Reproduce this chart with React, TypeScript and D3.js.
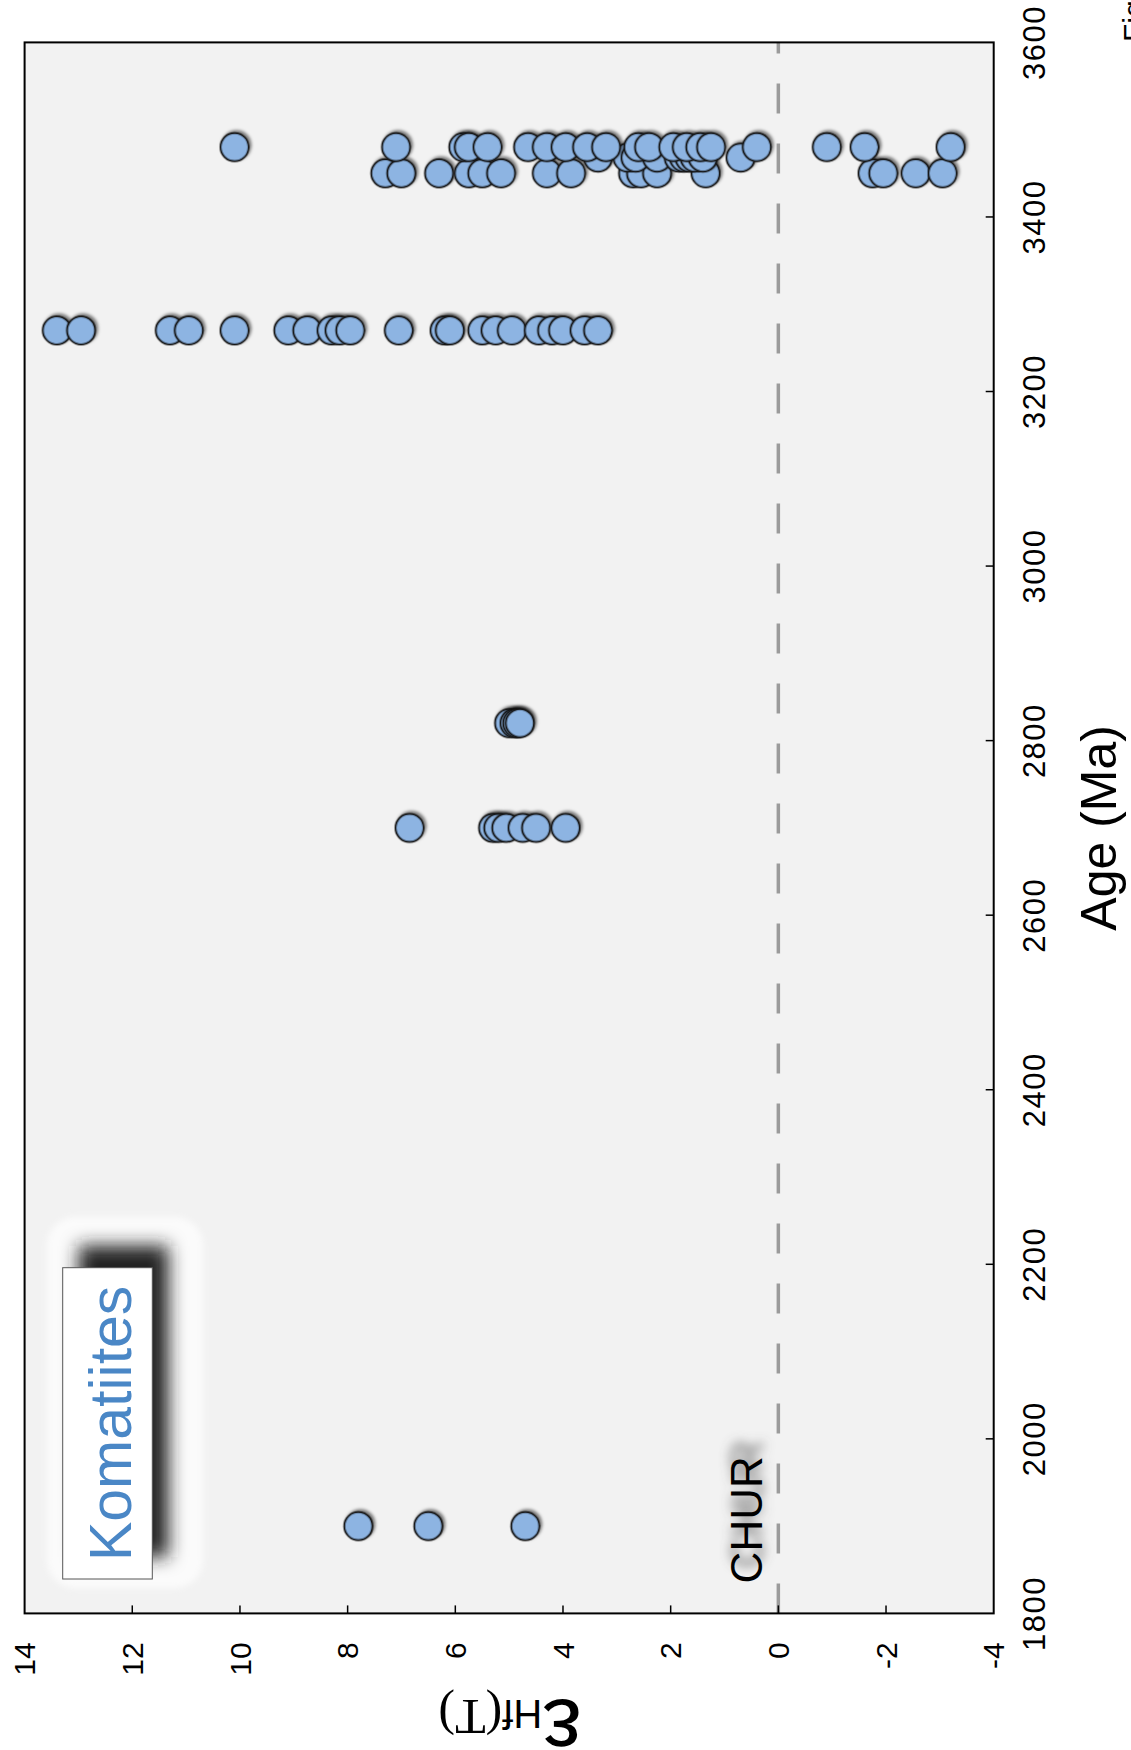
import React from 'react';
import * as d3 from 'd3';

// Axis ticks
const ageTicks = [1800, 2000, 2200, 2400, 2600, 2800, 3000, 3200, 3400, 3600];
const hfTicks = [14, 12, 10, 8, 6, 4, 2, 0, -2, -4];

// εHf(T) values of komatiites, grouped by age (Ma)
const hf1900 = [7.8, 6.5, 4.7];
const hf2700 = [6.85, 5.3, 5.2, 5.05, 4.75, 4.5, 3.95];
const hf2820 = [5.0, 4.9, 4.85, 4.8];
const hf3270 = [13.4, 12.95, 11.3, 10.95, 10.1, 9.1, 8.75, 8.3, 8.15, 7.95, 7.05, 6.2, 6.1, 5.5, 5.25, 4.95, 4.45, 4.2, 4.0, 3.6, 3.35];
const hf3450 = [7.3, 7.0, 6.3, 5.75, 5.5, 5.15, 4.3, 3.85, 2.7, 2.55, 2.25, 1.35, -1.75, -1.95, -2.55, -3.05];
const hf3468 = [3.35, 2.8, 2.65, 2.25, 1.85, 1.75, 1.65, 1.55, 1.4, 0.7];
const hf3480 = [10.1, 7.1, 5.85, 5.75, 5.4, 4.65, 4.3, 3.95, 3.55, 3.2, 2.6, 2.4, 1.95, 1.7, 1.45, 1.25, 0.4, -0.9, -1.6, -3.2];

const groups: [number, number[]][] = [
  [1900, hf1900],
  [2700, hf2700],
  [2820, hf2820],
  [3270, hf3270],
  [3450, hf3450],
  [3468, hf3468],
  [3480, hf3480],
];

const points = groups.flatMap(([age, vals]) => vals.map((hf) => ({ age, hf })));

const SANS = '"Liberation Sans", Arial, Helvetica, sans-serif';
const SERIF = '"Liberation Serif", "Times New Roman", serif';

export default function App() {
  const frame = { left: 24.6, top: 42.4, right: 993.7, bottom: 1613.4 };
  const len = frame.bottom - frame.top; // along the age axis
  const depth = frame.right - frame.left; // along the εHf axis

  const x = d3.scaleLinear().domain([1800, 3600]).range([0, len]);
  const y = d3.scaleLinear().domain([14, -4]).range([0, depth]);

  const box = { x: 62.7, y: 1267.7, w: 89.6, h: 311.3 };

  return (
    <svg
      width={1131}
      height={1750}
      style={{ position: 'absolute', left: 0, top: 0, display: 'block', background: '#fff' }}
    >
      <defs>
        <filter id="dotShadow" x="-50%" y="-50%" width="200%" height="200%">
          <feDropShadow dx="2" dy="2" stdDeviation="1.6" floodColor="#000" floodOpacity="0.5" />
        </filter>
        <filter id="softBlur" x="-60%" y="-30%" width="220%" height="160%">
          <feGaussianBlur stdDeviation="9" />
        </filter>
        <filter id="glowBlur" x="-20%" y="-20%" width="140%" height="140%">
          <feGaussianBlur stdDeviation="3" />
        </filter>
        <filter id="textShadow" x="-50%" y="-100%" width="200%" height="300%">
          <feGaussianBlur stdDeviation="6" />
        </filter>
      </defs>

      {/* chart drawn on its side: age runs upward, εHf runs to the right */}
      <g transform={`translate(${frame.left},${frame.bottom}) rotate(-90)`}>
        <rect x={0} y={0} width={len} height={depth} fill="#f2f2f2" />

        {/* CHUR reference line */}
        <line
          x1={x(1800)}
          x2={x(3600)}
          y1={y(0)}
          y2={y(0)}
          stroke="#9b9b9b"
          strokeWidth={3.5}
          strokeDasharray="30 30"
        />

        <text
          x={x(1800) + 30 + 16}
          y={y(0) - 16}
          fontFamily={SANS}
          fontSize={44}
          fill="#555"
          filter="url(#textShadow)"
        >
          CHUR
        </text>
        <text x={x(1800) + 30} y={y(0) - 16} fontFamily={SANS} fontSize={44} fill="#000">
          CHUR
        </text>

        {points.map((p, i) => (
          <circle
            key={i}
            cx={x(p.age)}
            cy={y(p.hf)}
            r={14}
            fill="#8db4e2"
            stroke="#141414"
            strokeWidth={2}
            filter="url(#dotShadow)"
          />
        ))}

        {/* inward ticks */}
        {ageTicks.slice(1, -1).map((t) => (
          <line key={`a${t}`} x1={x(t)} x2={x(t)} y1={depth} y2={depth - 8} stroke="#000" strokeWidth={1.5} />
        ))}
        {hfTicks.slice(1, -1).map((t) => (
          <line key={`h${t}`} x1={0} x2={8} y1={y(t)} y2={y(t)} stroke="#000" strokeWidth={1.5} />
        ))}

        <rect x={0} y={0} width={len} height={depth} fill="none" stroke="#000" strokeWidth={2} />

        {/* tick labels */}
        {ageTicks.map((t) => (
          <text
            key={`al${t}`}
            x={x(t)}
            y={depth + 51}
            textAnchor="middle"
            fontFamily={SANS}
            fontSize={31}
            letterSpacing={1.5}
            fill="#000"
          >
            {t}
          </text>
        ))}
        {hfTicks.map((t) => (
          <text
            key={`hl${t}`}
            x={-29}
            y={y(t)}
            dy="0.36em"
            textAnchor="end"
            fontFamily={SANS}
            fontSize={30}
            fill="#000"
          >
            {t}
          </text>
        ))}

        <text x={len / 2} y={depth + 122} textAnchor="middle" fontFamily={SANS} fontSize={50} fill="#000">
          Age (Ma)
        </text>
      </g>

      {/* εHf(T) axis title */}
      <text transform="translate(510,1700) rotate(180)" textAnchor="middle" fill="#000">
        <tspan fontFamily={SANS} fontSize={88}>ε</tspan>
        <tspan fontFamily={SANS} fontSize={40}>Hf</tspan>
        <tspan fontFamily={SERIF} fontSize={50}>(T)</tspan>
      </text>

      {/* Komatiites label */}
      <rect x={47} y={1217} width={156} height={371} rx={28} fill="#fbfbfb" filter="url(#glowBlur)" />
      <rect
        x={box.x + 16}
        y={box.y - 22}
        width={box.w}
        height={box.h}
        fill="#222"
        filter="url(#softBlur)"
      />
      <rect x={box.x} y={box.y} width={box.w} height={box.h} fill="#fff" stroke="#555" strokeWidth={1} />
      <text
        transform={`translate(131,${box.y + box.h / 2}) rotate(-90)`}
        textAnchor="middle"
        fontFamily={SANS}
        fontSize={59}
        fill="#4a87c6"
      >
        Komatiites
      </text>

      <text transform="translate(1144,42) rotate(-90)" fontFamily={SANS} fontSize={30} fill="#000">
        Fig.
      </text>
    </svg>
  );
}
